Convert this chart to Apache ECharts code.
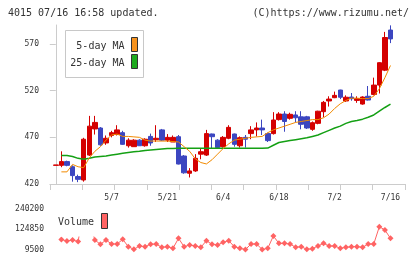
<!DOCTYPE html>
<html>
<head>
<meta charset="utf-8">
<script src="https://cdn.jsdelivr.net/npm/echarts@6/dist/echarts.min.js"></script>
<style>
html,body{margin:0;padding:0;background:#fff;}
#chart{width:420px;height:259px;}
</style>
</head>
<body>
<div id="chart"></div>
<script>
// trading days shown on the chart
var dates = ['4/18','4/21','4/22','4/23','4/24','4/25','4/28','4/30',
	'5/1','5/2','5/7','5/8','5/9','5/12','5/13','5/14','5/15','5/16','5/19','5/20','5/21','5/22','5/23','5/26','5/27','5/28','5/29','5/30',
	'6/2','6/3','6/4','6/5','6/6','6/9','6/10','6/11','6/12','6/13','6/16','6/17','6/18','6/19','6/20','6/23','6/24','6/25','6/26','6/27','6/30',
	'7/1','7/2','7/3','7/4','7/7','7/8','7/9','7/10','7/11','7/14','7/15','7/16'];
var opens = [440,440,444,438.5,428,424.3,451,479,480,464,472,473,475,461,460,467,461,471,467.5,478,467,465,470.7,450,431.5,434,452,451,473.6,467,
	460,469,473.6,461,470,474,478,480,474,474,489,495,490.4,494,492,492,478.6,485,497.5,509,512.5,520.7,509,513.2,509.6,505.7,514,516,526,542,585];
var closes = [440.4,444,440,429,425,468,482,486,462,469,475,478,462.5,467,467,461,468,464,469,467,470,470,441.4,432,434,447.5,454.6,474,470.7,459,
	470,480.7,462.5,469.6,468,478,480,478,466.5,488.6,495,487,494.7,491,484,480,485.7,498,507.5,511,515,513,513,511.4,511.4,513.2,510,526,550,577,575.5];
var lows = [440,438,439,422.5,422,422.5,450,473,461,462,470,472,462,459,460,461,460,461,465,466,465,465,441,431,427,433,446.5,450,458,458,
	459,468,460,459,459,468,471,472.5,465,473,488,476,489,486,478.6,479,477,484,491.5,503,512,511,508,509.3,507,505,509.5,515,517,541,571];
var highs = [440.4,455,445,440,430,469.5,493,493,481,472,477,483,477,469,468,468,469,474,483,479,473.5,472,472.5,451,437,452,458,478,474,468,
	471.4,483,474,471,472.5,482,486,489,475,497,497,498,496.4,498,498,493,487,498.5,509,514,519,521,515,517.5,514,514,525,534,550.5,583,590];
var ma5 = [null,433,433,441,438.5,437.5,448,455,460,467,472.5,473.5,471,471,470.5,470,467,466,466,466,466,465.5,465,460,455,447,443,441.5,446,452,
	458,463,467,468,469,470,470.5,471,475,478,480,482,484,486,487,488,489,489,491,495,501,506,509.5,512,512,511.5,511.5,514,522,534,547];
var ma25 = [null,450.5,450.5,449.5,447.5,446.5,447.5,449,449.5,450,451,452,453,453.8,454.5,455,456,456.5,457,457.5,458,458,
	458.2,458.2,458.2,458.2,458.2,458.2,458.2,458.2,458.2,458.2,458.2,458.2,458.2,458.2,458.2,458.2,
	458.5,461.5,464.5,465.5,466.5,467.5,468.5,469.5,471,472.5,475,477.5,480,482,485,487,488,489.5,491.5,494,498,502,505.5];
var volumes = [null,66500,57900,63600,55100,240200,175000,63600,39000,63600,40800,40800,67400,25600,10500,29400,25600,39000,40800,21800,
	25600,16100,73100,25600,35100,29400,21800,59800,39000,35100,50300,59800,25600,16100,9500,40800,40800,9500,16100,86400,
	44600,44600,40800,21800,25600,10500,14300,29400,44600,29400,29400,16100,21800,25600,25600,21800,40800,40800,139600,120600,73100];
var labelDates = ['5/7','5/21','6/4','6/18','7/2','7/16'];
var priceTicks = [420,470,520,570];
var volumeTicks = [9500,124850,240200];

var mono = 'DejaVu Sans Mono';
var axisGray = '#cccccc';
var xMin = -1.04, xMax = 62.6;

var labelIdx = labelDates.map(function(d) { return dates.indexOf(d); });
var gridTicks = [];
for (var k = 0; k <= 11; k++) {
	gridTicks.push(xMin + k * (xMax - xMin) / 11);
}

function pairs(arr) {
	var out = [];
	for (var i = 0; i < arr.length; i++) {
		if (arr[i] != null) out.push([i, arr[i]]);
	}
	return out;
}

var candles = dates.map(function(d, i) {
	return [i, opens[i], closes[i], lows[i], highs[i]];
});

var chart = echarts.init(document.getElementById('chart'), null, {renderer: 'canvas'});

option = {
	animation: false,
	backgroundColor: '#fff',
	grid: [
		{left: 50, right: 15, top: 25, height: 159},
		{left: 50, right: 15, top: 209, height: 40.5}
	],
	xAxis: [{
		type: 'value', gridIndex: 0, min: xMin, max: xMax,
		axisLine: {lineStyle: {color: axisGray}},
		axisTick: {customValues: gridTicks, length: 6, lineStyle: {color: axisGray}},
		axisLabel: {
			customValues: labelIdx, margin: 10, fontSize: 8, fontFamily: mono, color: '#333',
			formatter: function(v) { return dates[Math.round(v)]; }
		},
		splitLine: {show: false}
	}, {
		type: 'value', gridIndex: 1, min: xMin, max: xMax, show: false
	}],
	yAxis: [{
		type: 'value', gridIndex: 0, min: 420, max: 590.4,
		axisLine: {show: true, lineStyle: {color: axisGray}},
		axisTick: {show: true, customValues: priceTicks, length: 6, lineStyle: {color: axisGray}},
		axisLabel: {customValues: priceTicks, margin: 11, fontSize: 8, fontFamily: mono, color: '#333',
			formatter: function(v) { return String(v); }},
		splitLine: {show: false}
	}, {
		type: 'value', gridIndex: 1, min: 9500, max: 240200,
		axisLine: {show: false}, axisTick: {show: false},
		axisLabel: {customValues: volumeTicks, margin: 6, fontSize: 8, fontFamily: mono, color: '#333',
			formatter: function(v) { return String(v); }},
		splitLine: {show: false}
	}],
	series: [{
		type: 'candlestick',
		xAxisIndex: 0, yAxisIndex: 0,
		barWidth: 5,
		data: candles,
		itemStyle: {
			color: '#d40000', color0: '#3c46c0',
			borderColor: '#d40000', borderColor0: '#3c46c0', borderWidth: 1
		}
	}, {
		type: 'line', name: '25-day MA',
		xAxisIndex: 0, yAxisIndex: 0,
		data: pairs(ma25), showSymbol: false,
		lineStyle: {color: '#14a014', width: 1.5}
	}, {
		type: 'line', name: '5-day MA',
		xAxisIndex: 0, yAxisIndex: 0,
		data: pairs(ma5), showSymbol: false,
		lineStyle: {color: '#f28a00', width: 1}
	}, {
		type: 'line', name: 'Volume',
		xAxisIndex: 1, yAxisIndex: 1,
		data: pairs(volumes),
		symbol: 'diamond', symbolSize: 6, showSymbol: true,
		itemStyle: {color: '#ff6363'},
		lineStyle: {color: '#ff6363', width: 1}
	}],
	graphic: [
		{type: 'text', z: 100, style: {text: '4015 07/16 16:58 updated.', x: 8, y: 13, verticalAlign: 'middle', fontSize: 10, fontFamily: mono, fill: '#333'}},
		{type: 'text', z: 100, style: {text: '(C)https://www.rizumu.net/', x: 409, y: 13, align: 'right', verticalAlign: 'middle', fontSize: 10, fontFamily: mono, fill: '#333'}},
		// MA legend
		{type: 'rect', z: 100, shape: {x: 65.5, y: 30.5, width: 78, height: 47}, style: {fill: '#fff', stroke: '#c8c8c8', lineWidth: 1}},
		{type: 'text', z: 101, style: {text: '5-day MA', x: 124.5, y: 46, align: 'right', verticalAlign: 'middle', fontSize: 10, fontFamily: mono, fill: '#333'}},
		{type: 'text', z: 101, style: {text: '25-day MA', x: 124.5, y: 63, align: 'right', verticalAlign: 'middle', fontSize: 10, fontFamily: mono, fill: '#333'}},
		{type: 'rect', z: 101, shape: {x: 131.5, y: 37.5, width: 6, height: 14}, style: {fill: '#f7931e', stroke: '#333', lineWidth: 1}},
		{type: 'rect', z: 101, shape: {x: 131.5, y: 54.5, width: 6, height: 14}, style: {fill: '#1eaa1e', stroke: '#333', lineWidth: 1}},
		// Volume legend
		{type: 'rect', z: 100, shape: {x: 54, y: 203, width: 58, height: 33.5}, style: {fill: '#fff'}},
		{type: 'text', z: 101, style: {text: 'Volume', x: 58, y: 222, verticalAlign: 'middle', fontSize: 10, fontFamily: mono, fill: '#333'}},
		{type: 'rect', z: 101, shape: {x: 101.5, y: 213.5, width: 6, height: 15}, style: {fill: '#ff6363', stroke: '#333', lineWidth: 1}}
	]
};

chart.setOption(option);
</script>
</body>
</html>
